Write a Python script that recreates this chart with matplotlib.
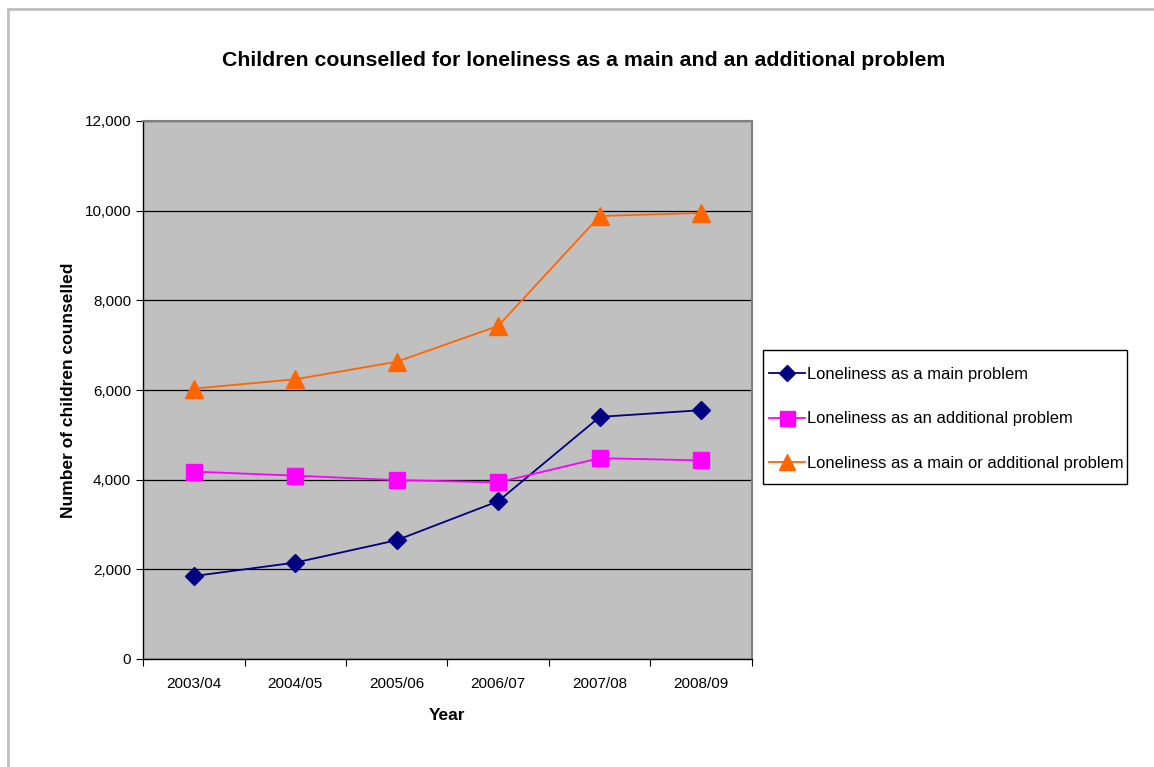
import numpy as np
import matplotlib.pyplot as plt
from matplotlib.patches import Rectangle
from matplotlib.ticker import FuncFormatter, FixedLocator, NullFormatter

plt.rcParams['font.family'] = ['Liberation Sans', 'DejaVu Sans']

years = ['2003/04', '2004/05', '2005/06', '2006/07', '2007/08', '2008/09']
main_problem = [1850, 2150, 2650, 3520, 5400, 5550]
additional_problem = [4180, 4090, 3990, 3940, 4480, 4430]
main_or_additional = [6030, 6240, 6630, 7430, 9880, 9950]

W, H = 1154, 767
fig = plt.figure(figsize=(W / 100, H / 100), dpi=100)

# light grey chart-area frame along the top and left edge
fig.patches.append(Rectangle((8 / W, -0.1), 1.2, 1 - 9 / H + 0.1,
                             transform=fig.transFigure, fill=False,
                             edgecolor='#c0c0c0', linewidth=2))

ax = fig.add_axes([143 / W, 1 - 659 / H, (752 - 143) / W, (659 - 121) / H])
ax.set_facecolor('#c0c0c0')

x = np.arange(len(years))
ax.plot(x, main_problem, color='#000080', linewidth=1.3, marker='D',
        markersize=9, label='Loneliness as a main problem')
ax.plot(x, additional_problem, color='#ff00ff', linewidth=1.3, marker='s',
        markersize=12, label='Loneliness as an additional problem')
ax.plot(x, main_or_additional, color='#ff6600', linewidth=1.3, marker='^',
        markersize=13, label='Loneliness as a main or additional problem')

ax.set_xlim(-0.5, len(years) - 0.5)
ax.set_ylim(0, 12000)
ax.set_yticks(np.arange(0, 12001, 2000))
ax.yaxis.set_major_formatter(FuncFormatter(lambda v, p: f'{int(v):,}'))
ax.grid(axis='y', color='black', linewidth=0.9)
ax.set_axisbelow(True)

# category labels centred, tick marks between categories
ax.xaxis.set_major_locator(FixedLocator(np.arange(-0.5, len(years), 1.0)))
ax.xaxis.set_major_formatter(NullFormatter())
ax.xaxis.set_minor_locator(FixedLocator(x))
ax.set_xticklabels(years, minor=True)
ax.tick_params(axis='x', which='minor', length=0, pad=13, labelsize=11)
ax.tick_params(axis='x', which='major', length=5, direction='out')
ax.tick_params(axis='y', length=5, direction='out', labelsize=11)

for side in ('top', 'right'):
    ax.spines[side].set_color('#808080')
    ax.spines[side].set_linewidth(1.5)
for side in ('left', 'bottom'):
    ax.spines[side].set_color('black')
    ax.spines[side].set_linewidth(1)

ax.set_xlabel('Year', fontsize=12.5, fontweight='bold', labelpad=12)
ax.set_ylabel('Number of children counselled', fontsize=12.5,
              fontweight='bold', labelpad=6)

fig.text(584 / W, 1 - 60 / H,
         'Children counselled for loneliness as a main and an additional problem',
         ha='center', va='center', fontsize=15.3, fontweight='bold')

# legend entries without their own frame; box drawn separately
fig.legend(loc='upper left', bbox_to_anchor=(769 / W, 1 - 367 / H),
           fontsize=11.9, frameon=False, handlelength=2.2,
           handletextpad=0.1, borderpad=0, labelspacing=1.78,
           borderaxespad=0, markerscale=0.9)
fig.patches.append(Rectangle((763 / W, 1 - 484 / H), (1127 - 763) / W,
                             (484 - 350) / H, transform=fig.transFigure,
                             fill=False, edgecolor='black', linewidth=1))

fig.savefig('out.png', dpi=100)
